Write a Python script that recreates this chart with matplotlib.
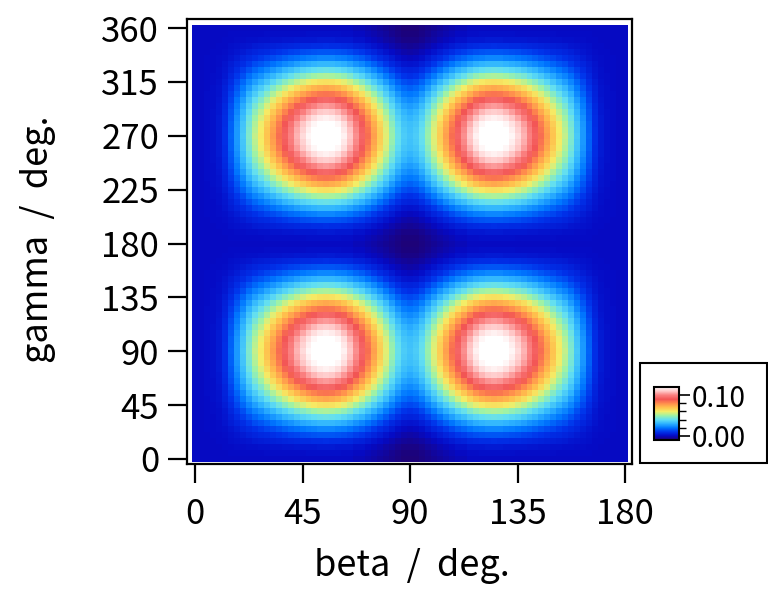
import numpy as np
import matplotlib
matplotlib.use("Agg")
import matplotlib.pyplot as plt
from matplotlib.colors import LinearSegmentedColormap
from matplotlib.patches import Rectangle
from matplotlib.ticker import FixedLocator

plt.rcParams['font.family'] = ['Noto Sans CJK JP', 'DejaVu Sans']

# Euler-angle grid (degrees); beta sampled every 2.5 deg, gamma every 5 deg
beta_half = np.arange(0, 90.01, 2.5)      # 0 .. 90
gamma_quarter = np.arange(0, 90.01, 5)    # 0 .. 90

# Signal along the gamma = 90 deg row, beta = 0 .. 90 (symmetric about 90)
row_gamma90 = [0.000, 0.000, 0.001, 0.002, 0.004, 0.009, 0.017, 0.026, 0.035,
               0.045, 0.054, 0.061, 0.069, 0.077, 0.085, 0.093, 0.100, 0.107,
               0.113, 0.118, 0.122, 0.125, 0.126, 0.125, 0.122, 0.117, 0.110,
               0.102, 0.094, 0.085, 0.076, 0.067, 0.058, 0.049, 0.041, 0.036,
               0.034]

# Signal along the gamma = 0 / 180 deg rows, beta = 0 .. 90
row_gamma0 = [0.000, 0.000, 0.000, 0.000, 0.000, 0.000, 0.000, 0.000, 0.000,
              0.000, 0.000, 0.000, 0.000, 0.000, 0.000, 0.000, 0.000, 0.000,
              0.000, 0.000, 0.000, 0.000, 0.000, 0.000, 0.000, 0.000, 0.000,
              -0.001, -0.001, -0.002, -0.003, -0.004, -0.005, -0.006, -0.007,
              -0.008, -0.008]

# Relative weight of the gamma = 90 row vs. gamma, 0 .. 90 deg
gamma_weight = [0.00, 0.01, 0.03, 0.07, 0.12, 0.18, 0.25, 0.33, 0.41, 0.50,
                0.59, 0.67, 0.75, 0.82, 0.88, 0.93, 0.97, 0.99, 1.00]

x_ticks = [0, 45, 90, 135, 180]
y_ticks = [0, 45, 90, 135, 180, 225, 270, 315, 360]
cbar_ticks = [0.00, 0.10]
cbar_minor = [0.02, 0.04, 0.06, 0.08]
v_min, v_max = -0.010, 0.120

# ---- assemble the full map from its symmetric parts ----
r90 = np.array(row_gamma90)
r0 = np.array(row_gamma0)
r90_full = np.concatenate([r90, r90[-2::-1]])
r0_full = np.concatenate([r0, r0[-2::-1]])
beta = np.concatenate([beta_half, 180 - beta_half[-2::-1]])

w = np.array(gamma_weight)
w_half = np.concatenate([w, w[-2::-1]])                # 0 .. 180
w_full = np.concatenate([w_half, w_half[1:]])          # 0 .. 360
gamma = np.concatenate([gamma_quarter, 180 - gamma_quarter[-2::-1]])
gamma = np.concatenate([gamma, 180 + gamma[1:]])

signal = np.outer(w_full, r90_full) + np.outer(1 - w_full, r0_full)

# ---- colour map: navy -> blue -> cyan -> yellow -> red -> white ----
stops = [
    (-0.010, (0.13, 0.00, 0.42)),
    (0.000, (0.02, 0.04, 0.77)),
    (0.010, (0.00, 0.20, 0.92)),
    (0.020, (0.00, 0.47, 1.00)),
    (0.030, (0.18, 0.70, 1.00)),
    (0.040, (0.38, 0.87, 0.95)),
    (0.050, (0.62, 0.95, 0.65)),
    (0.060, (0.96, 0.93, 0.40)),
    (0.070, (1.00, 0.75, 0.30)),
    (0.080, (1.00, 0.55, 0.30)),
    (0.090, (0.95, 0.33, 0.33)),
    (0.100, (0.98, 0.50, 0.50)),
    (0.110, (1.00, 0.78, 0.78)),
    (0.120, (1.00, 1.00, 1.00)),
]
cmap = LinearSegmentedColormap.from_list(
    "rainbow_white",
    [((v - v_min) / (v_max - v_min), c) for v, c in stops])

W, H = 768, 590
fig = plt.figure(figsize=(W / 100, H / 100), dpi=100)
ax = fig.add_axes([187 / W, 1 - 464 / H, 445 / W, 445 / H])

mesh = ax.pcolormesh(beta, gamma, signal, cmap=cmap, vmin=v_min, vmax=v_max,
                     shading='nearest', rasterized=True)

ax.set_xlim(-3.35, 182.9)
ax.set_ylim(-4.2, 367.6)
ax.set_xticks(x_ticks)
ax.set_yticks(y_ticks)
ax.tick_params(direction='out', length=14, width=1.6, labelsize=25,
               top=False, right=False)
ax.tick_params(axis='x', pad=10)
ax.tick_params(axis='y', pad=6)
for s in ax.spines.values():
    s.set_linewidth(1.6)

fig.text(412 / W, 1 - 566 / H, 'beta  /  deg.', ha='center', va='center',
         fontsize=26)
fig.text(38 / W, 1 - 239 / H, 'gamma  /  deg.', ha='center', va='center',
         rotation=90, fontsize=26)

# colour scale in a framed box
fig.patches.append(Rectangle((640 / W, 1 - 463 / H), 127 / W, 100 / H,
                             transform=fig.transFigure, fill=False,
                             edgecolor='black', linewidth=1.5))
cax = fig.add_axes([654 / W, 1 - 440 / H, 25 / W, 53 / H])
cb = fig.colorbar(mesh, cax=cax, ticks=cbar_ticks, format='%.2f')
cb.ax.yaxis.set_minor_locator(FixedLocator(cbar_minor))
cb.ax.tick_params(which='major', length=8, width=1.2, labelsize=20, pad=1)
cb.ax.tick_params(which='minor', length=5, width=1.0)
cb.outline.set_linewidth(1.5)

fig.savefig('out.png', dpi=100)
